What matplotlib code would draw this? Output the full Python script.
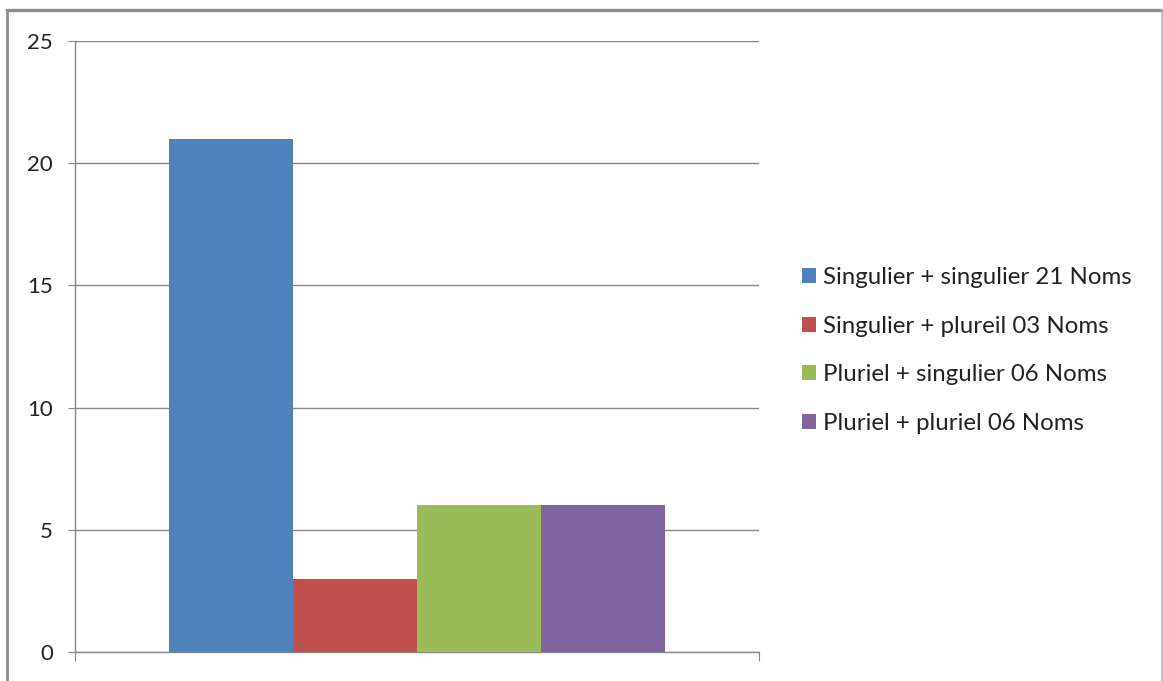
import matplotlib
matplotlib.use("Agg")
import matplotlib.pyplot as plt
from matplotlib.patches import Patch
from matplotlib.lines import Line2D

# Data
series_labels = [
    "Singulier + singulier 21 Noms",
    "Singulier + plureil 03 Noms",
    "Pluriel + singulier 06 Noms",
    "Pluriel + pluriel 06 Noms",
]
values = [21, 3, 6, 6]
colors = ["#4F81BD", "#C0504D", "#9BBB59", "#8064A2"]
y_ticks = [0, 5, 10, 15, 20, 25]

W, H = 1163, 681
plt.rcParams["font.family"] = ["Lato", "DejaVu Sans"]
fig = plt.figure(figsize=(W / 100, H / 100), dpi=100)

# outer chart-area frame (top, left, right)
frame_col = "#8e8e8e"
fig.add_artist(Line2D([7 / W, 7 / W], [0, 1 - 10 / H], transform=fig.transFigure,
                      color=frame_col, lw=2.0))
fig.add_artist(Line2D([7 / W, 1161.5 / W], [1 - 10 / H, 1 - 10 / H], transform=fig.transFigure,
                      color=frame_col, lw=2.4))
fig.add_artist(Line2D([1161.5 / W, 1161.5 / W], [0, 1 - 10 / H], transform=fig.transFigure,
                      color="#b0b0b0", lw=1.2))

ax = fig.add_axes([75 / W, 29 / H, (759 - 75) / W, (652 - 41) / H])

n = len(values)
gap = 1.52
bw = 1.0 / (n + gap)
start = -0.5 + gap * bw / 2
for i, (v, c) in enumerate(zip(values, colors)):
    ax.bar(start + bw * (i + 0.5), v, width=bw, color=c, zorder=3)

ax.set_xlim(-0.5, 0.5)
ax.set_ylim(0, 25)
ax.set_yticks(y_ticks)
ax.set_xticks([-0.5, 0.5])
ax.set_xticklabels([])

grid_col = "#878787"
ax.yaxis.grid(True, color=grid_col, lw=1.0, zorder=0)
ax.set_axisbelow(True)
for s in ["top", "right"]:
    ax.spines[s].set_visible(False)
for s in ["left", "bottom"]:
    ax.spines[s].set_color(grid_col)
    ax.spines[s].set_linewidth(1.0)
ax.tick_params(axis="y", direction="out", length=5, width=0.8, color=grid_col,
               pad=11, labelsize=16, labelcolor="#222222")
ax.tick_params(axis="x", direction="out", length=6.5, width=0.8, color=grid_col)

handles = [Patch(facecolor=c, edgecolor="none") for c in colors]
fig.legend(handles, series_labels, loc="center left",
           bbox_to_anchor=(780 / W, 1 - 350.5 / H), frameon=False,
           fontsize=17.3, handlelength=0.6, handleheight=0.6,
           handletextpad=0.3, labelspacing=1.15, labelcolor="#222222")

fig.savefig("out.png", dpi=100, facecolor="white")
